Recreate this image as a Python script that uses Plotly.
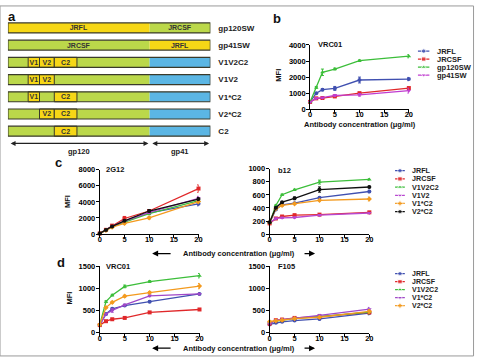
import plotly.graph_objects as go

W, H = 481, 359
def px(x): return x / W
def py(y): return 1 - y / H

FONT = "Liberation Sans, Arial, sans-serif"

# ---------------- data ----------------
conc = [0, 1.25, 2.5, 5, 10, 20]

# panel b  (VRC01 on swap constructs)
b_names = ["JRFL", "JRCSF", "gp120SW", "gp41SW"]
b_vals = {
    "JRFL":    [460, 1000, 1220, 1300, 1820, 1880],
    "JRCSF":   [460, 680, 700, 800, 1000, 1320],
    "gp120SW": [460, 1360, 2300, 2500, 3020, 3300],
    "gp41SW":  [460, 680, 720, 860, 900, 1160],
}
b_err = {
    "JRFL":    [0, 40, 60, 120, 180, 100],
    "JRCSF":   [0, 30, 40, 50, 60, 60],
    "gp120SW": [0, 60, 200, 60, 50, 100],
    "gp41SW":  [0, 30, 40, 60, 80, 150],
}

# panel c
c_names = ["JRFL", "JRCSF", "V1V2C2", "V1V2", "V1*C2", "V2*C2"]
c1_vals = {  # 2G12
    "JRFL":   [80, 500, 950, 1550, 2630, 3760],
    "JRCSF":  [80, 525, 1050, 1940, 2870, 5660],
    "V1V2C2": [80, 480, 900, 1500, 2550, 4160],
    "V1V2":   [80, 500, 950, 1600, 2700, 4440],
    "V1*C2":  [80, 450, 850, 1330, 2020, 4040],
    "V2*C2":  [80, 500, 950, 1650, 2870, 4360],
}
c1_err = {
    "JRFL":   [0, 40, 60, 100, 150, 250],
    "JRCSF":  [0, 50, 100, 250, 150, 450],
    "V1V2C2": [0, 40, 60, 100, 150, 200],
    "V1V2":   [0, 40, 60, 100, 150, 250],
    "V1*C2":  [0, 40, 60, 100, 150, 200],
    "V2*C2":  [0, 40, 60, 100, 150, 200],
}
c2_vals = {  # b12
    "JRFL":   [170, 378, 448, 473, 557, 652],
    "JRCSF":  [164, 239, 269, 289, 298, 333],
    "V1V2C2": [174, 438, 602, 677, 796, 836],
    "V1V2":   [170, 239, 249, 254, 289, 323],
    "V1*C2":  [180, 388, 438, 463, 517, 537],
    "V2*C2":  [180, 403, 488, 547, 682, 721],
}
c2_err = {
    "JRFL":   [0, 10, 10, 10, 10, 20],
    "JRCSF":  [0, 10, 10, 15, 15, 10],
    "V1V2C2": [0, 10, 10, 10, 30, 10],
    "V1V2":   [0, 10, 10, 10, 10, 10],
    "V1*C2":  [0, 10, 10, 10, 10, 30],
    "V2*C2":  [0, 10, 10, 20, 40, 15],
}

# panel d
d_names = ["JRFL", "JRCSF", "V1V2C2", "V1*C2", "V2*C2"]
d1_vals = {  # VRC01
    "JRFL":   [170, 419, 537, 610, 699, 875],
    "JRCSF":  [169, 257, 301, 331, 456, 522],
    "V1V2C2": [180, 699, 846, 1044, 1154, 1287],
    "V1*C2":  [170, 419, 500, 625, 831, 875],
    "V2*C2":  [180, 566, 684, 824, 904, 1051],
}
d1_err = {
    "JRFL":   [0, 15, 20, 20, 20, 20],
    "JRCSF":  [0, 15, 15, 15, 15, 15],
    "V1V2C2": [0, 20, 20, 30, 20, 50],
    "V1*C2":  [0, 15, 40, 20, 20, 20],
    "V2*C2":  [0, 20, 20, 20, 20, 60],
}
d2_vals = {  # F105
    "JRFL":   [184, 221, 243, 272, 309, 441],
    "JRCSF":  [200, 279, 294, 331, 360, 456],
    "V1V2C2": [235, 260, 280, 320, 360, 463],
    "V1*C2":  [199, 279, 294, 331, 390, 529],
    "V2*C2":  [250, 265, 280, 316, 346, 478],
}
d2_err = {k: [0, 10, 10, 15, 20, 40] for k in d_names}

# panel a schematic
constructs = ["gp120SW", "gp41SW", "V1V2C2", "V1V2", "V1*C2", "V2*C2", "C2"]
regions = {"gp120": (0, 70), "gp41": (70, 100)}
gp120_fill = ["JRFL", "JRCSF", "JRCSF", "JRCSF", "JRCSF", "JRCSF", "JRCSF"]
gp41_fill = ["JRCSF", "JRFL", "gp41", "gp41", "gp41", "gp41", "gp41"]
gp120_text = ["JRFL", "JRCSF", "", "", "", "", ""]
gp41_text = ["JRCSF", "JRFL", "", "", "", "", ""]
domains = {"V1": (10, 15.6), "V2": (15.6, 22.9), "C2": (22.9, 34.1)}
swapped = [[], [], ["V1", "V2", "C2"], ["V1", "V2"], ["V1", "C2"], ["V2", "C2"], ["C2"]]

# ---------------- styles ----------------
YEL, GRN, BLU = "#F6D716", "#BBD84A", "#5BB6E4"
fill_col = {"JRFL": YEL, "JRCSF": GRN, "gp41": BLU}
EDGE = "#3a3a2a"

series_style = {
    "JRFL":    ("#4050B0", "circle"),
    "JRCSF":   ("#E0282A", "square"),
    "gp120SW": ("#3CBE3A", "triangle-up"),
    "gp41SW":  ("#C03CD0", "triangle-down"),
    "V1V2C2":  ("#3CBE3A", "triangle-up"),
    "V1V2":    ("#B848D0", "triangle-down"),
    "V1*C2":   ("#F39A1E", "diamond"),
    "V2*C2":   ("#111111", "circle"),
}
d_style = dict(series_style)
d_style["V1*C2"] = ("#A048C8", "triangle-down")
d_style["V2*C2"] = ("#F39A1E", "diamond")

fig = go.Figure()

def add_series(names, vals, errs, xa, ya, style):
    for n in names:
        col, sym = style[n]
        fig.add_trace(go.Scatter(
            x=conc, y=vals[n], mode="lines+markers", name=n,
            line=dict(color=col, width=1.3),
            marker=dict(color=col, size=4, symbol=sym),
            error_y=dict(type="data", array=errs[n], color=col, thickness=1, width=1.5),
            xaxis=xa, yaxis=ya, cliponaxis=False, showlegend=False))

add_series(b_names, b_vals, b_err, "x", "y", series_style)
add_series(c_names, c1_vals, c1_err, "x2", "y2", series_style)
add_series(c_names, c2_vals, c2_err, "x3", "y3", series_style)
add_series(d_names, d1_vals, d1_err, "x4", "y4", d_style)
add_series(d_names, d2_vals, d2_err, "x5", "y5", d_style)

# legends (drawn as keys on small hidden axes)
annotations = []
def add_legend(names, style, xa, ya, text_x, fsize):
    for i, n in enumerate(names):
        col, sym = style[n]
        fig.add_trace(go.Scatter(
            x=[0, 0.5, 1], y=[i, i, i], mode="lines+markers",
            line=dict(color=col, width=1.3),
            marker=dict(color=col, size=[0, 4.5, 0], symbol=sym),
            xaxis=xa, yaxis=ya, showlegend=False, hoverinfo="skip", cliponaxis=False))
        annotations.append(dict(x=px(text_x), y=i, xref="paper", yref=ya, text=n,
                                showarrow=False, xanchor="left", yanchor="middle",
                                font=dict(size=fsize, family=FONT, weight="bold", color="#222")))

add_legend(b_names, series_style, "x7", "y7", 438, 7.5)
add_legend(c_names, series_style, "x8", "y8", 413, 7.2)
add_legend(d_names, d_style, "x9", "y9", 413, 7)

# panel a bars
for key, fills, texts in (("gp120", gp120_fill, gp120_text), ("gp41", gp41_fill, gp41_text)):
    s, e = regions[key]
    fig.add_trace(go.Bar(
        y=constructs, x=[e - s] * len(constructs), base=[s] * len(constructs),
        orientation="h", width=0.58,
        marker=dict(color=[fill_col[f] for f in fills], line=dict(width=0)),
        text=texts, textposition="inside", insidetextanchor="middle",
        constraintext="none", textangle=0,
        textfont=dict(size=7, family=FONT, weight="bold", color="#333"),
        xaxis="x6", yaxis="y6", showlegend=False, hoverinfo="skip"))

for dname, (s, e) in domains.items():
    rows = [c for c, sw in zip(constructs, swapped) if dname in sw]
    fig.add_trace(go.Bar(
        y=rows, x=[e - s] * len(rows), base=[s] * len(rows),
        orientation="h", width=0.58,
        marker=dict(color=YEL, line=dict(width=1, color=EDGE)),
        text=[dname] * len(rows), textposition="inside", insidetextanchor="middle",
        constraintext="none", textangle=0,
        textfont=dict(size=7, family=FONT, weight="bold", color="#333"),
        xaxis="x6", yaxis="y6", showlegend=False, hoverinfo="skip"))

fig.add_trace(go.Bar(
    y=constructs, x=[100] * len(constructs), base=[0] * len(constructs),
    orientation="h", width=0.58,
    marker=dict(color="rgba(0,0,0,0)", line=dict(width=1.2, color=EDGE)),
    xaxis="x6", yaxis="y6", showlegend=False, hoverinfo="skip"))

# ---------------- axes ----------------
tickfont = dict(size=7.5, family=FONT, weight="bold", color="black")
def data_axes(i, xd, yd, ymax, dtick):
    xs = "" if i == 1 else str(i)
    common = dict(showline=True, linecolor="black", linewidth=1, ticks="outside",
                  ticklen=3, tickwidth=1, tickcolor="black", showgrid=False,
                  zeroline=False, tickfont=tickfont)
    fig.layout["xaxis" + xs] = dict(domain=[px(xd[0]), px(xd[1])], range=[0, 20],
                                    tickvals=[0, 5, 10, 15, 20], anchor="y" + xs,
                                    ticklabelstandoff=-5, **common)
    fig.layout["yaxis" + xs] = dict(domain=[py(yd[1]), py(yd[0])], range=[0, ymax],
                                    dtick=dtick, anchor="x" + xs,
                                    ticklabelstandoff=-1, **common)

data_axes(1, (312, 412), (42, 108), 4000, 1000)
data_axes(2, (99, 199), (170, 236), 8000, 2000)
data_axes(3, (271, 372), (169, 236), 1000, 200)
data_axes(4, (99, 200), (269, 337), 1500, 500)
data_axes(5, (271, 372), (269, 337), 1500, 500)

def legend_axes(i, xd, top, bottom, n):
    fig.layout["xaxis" + str(i)] = dict(domain=[px(xd[0]), px(xd[1])], range=[0, 1],
                                        visible=False, anchor="y" + str(i))
    fig.layout["yaxis" + str(i)] = dict(domain=[py(bottom), py(top)], range=[n - 0.5, -0.5],
                                        visible=False, anchor="x" + str(i))

legend_axes(7, (421, 433), 44.2, 77.0, len(b_names))
legend_axes(8, (398, 408), 166.8, 217.2, len(c_names))
legend_axes(9, (398, 408), 272.5, 313.5, len(d_names))

fig.layout["xaxis6"] = dict(domain=[px(6), px(211)], range=[0, 100], visible=False, anchor="y6")
fig.layout["yaxis6"] = dict(domain=[py(139.3), py(15.7)], type="category",
                            categoryorder="array", categoryarray=constructs,
                            autorange="reversed", side="right", anchor="x6",
                            showline=False, showgrid=False, zeroline=False, ticks="",
                            ticklabelstandoff=7,
                            tickfont=dict(size=8, family=FONT, weight="bold", color="#222"))

# ---------------- text ----------------
def txt(x, y, s, size=7.5, anchor="center", angle=0, **kw):
    annotations.append(dict(x=px(x), y=py(y), xref="paper", yref="paper", text=s,
                            showarrow=False, xanchor=anchor, yanchor="middle",
                            textangle=angle,
                            font=dict(size=size, family=FONT, weight="bold", color="#111"), **kw))

# panel letters
txt(10, 13, "a", size=13)
txt(278, 15, "b", size=13)
txt(57, 163, "c", size=13)
txt(60, 265, "d", size=13)

# chart titles
txt(318, 42, "VRC01", size=7.5, anchor="left")
txt(103, 170, "2G12", size=7.5, anchor="left")
txt(277, 171, "b12", size=7.5, anchor="left")
txt(103, 269, "VRC01", size=7.5, anchor="left")
txt(277, 269, "F105", size=7.5, anchor="left")

# MFI labels
txt(280, 73, "MFI", size=7.5, angle=-90)
txt(67, 203, "MFI", size=7.5, angle=-90)
txt(68, 302, "MFI", size=7.5, angle=-90)

# x titles
txt(363, 124, "Antibody concentration (μg/ml)", size=7.5)
txt(240, 256, "Antibody concentration (μg/ml)", size=7.5)
txt(240, 353, "Antibody concentration (μg/ml)", size=7.5)

arrow = dict(showarrow=True, arrowhead=2, arrowsize=1, arrowwidth=1.2,
             arrowcolor="black", text="", xref="paper", yref="paper", ay=0)
for yy in (256, 353):
    annotations.append(dict(x=px(152), y=py(yy), ax=20, **arrow))
    annotations.append(dict(x=px(317), y=py(yy), ax=-12, **arrow))

# gp120 / gp41 arrows in panel a
for key, (s, e) in regions.items():
    annotations.append(dict(x=e - 0.6, ax=s + 0.6, xref="x6", axref="x6",
                            y=py(143), yref="paper", ay=0, ayref="pixel",
                            text="", showarrow=True, arrowside="end+start",
                            arrowhead=2, startarrowhead=2, arrowsize=0.9,
                            startarrowsize=0.9, arrowwidth=1.1, arrowcolor="#222"))
    annotations.append(dict(x=(s + e) / 2, xref="x6", y=py(151), yref="paper",
                            text=key, showarrow=False,
                            font=dict(size=7.5, family=FONT, weight="bold", color="#222")))

fig.update_layout(
    width=W, height=H, autosize=False,
    margin=dict(l=0, r=0, t=0, b=0),
    paper_bgcolor="white", plot_bgcolor="white",
    barmode="overlay", showlegend=False,
    font=dict(family=FONT, size=8, color="black"),
    annotations=annotations,
    shapes=[dict(type="rect", xref="paper", yref="paper",
                 x0=px(-2), x1=px(477.5), y0=py(361), y1=py(2),
                 line=dict(color="#9a9a9a", width=1), fillcolor="rgba(0,0,0,0)",
                 layer="below")],
)

fig.write_html("out.html")
